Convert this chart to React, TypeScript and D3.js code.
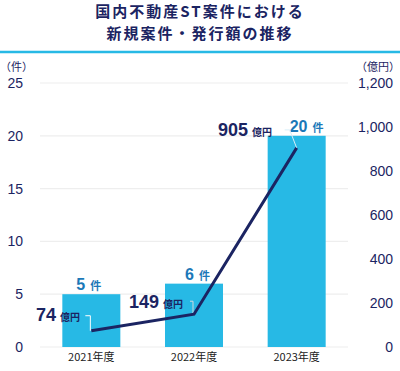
import React from "react";
import * as d3 from "d3";

const categories = ["2021年度", "2022年度", "2023年度"];
const counts = [5, 6, 20];
const amounts = [74, 149, 905];
const leftTicks = [0, 5, 10, 15, 20, 25];
const rightTicks = [0, 200, 400, 600, 800, 1000, 1200];

const W = 400, H = 371;
const JP = "'Noto Sans CJK JP', 'Noto Sans', sans-serif";
const NUM = "'Liberation Sans', Arial, sans-serif";
const NAVY = "#1b2462";
const BAR = "#27b9e5";
const LBL = "#1b78b8";

const countDx = [-15, -9, -7];
const amountEnd = [80, 183, 272];
const amountDy = [-10, -6, -12];

export default function App() {
  const x = d3.scaleBand<string>().domain(categories).range([40, 348]).paddingInner(0.435).paddingOuter(0.2175);
  const yL = d3.scaleLinear().domain([0, 25]).range([347, 83]);
  const yR = d3.scaleLinear().domain([0, 1200]).range([347, 83]);
  const cx = (c: string) => (x(c) as number) + x.bandwidth() / 2;
  const line = d3.line<number>().x((_, i) => cx(categories[i])).y((d) => yR(d));
  const pts = amounts.map((a, i) => [cx(categories[i]), yR(a)]);

  return (
    <svg width={W} height={H} style={{ position: "absolute", left: 0, top: 0 }}>
      <rect width={W} height={H} fill="#fff" />
      <text x={200} y={17} textAnchor="middle" fontFamily={JP} fontWeight={700} fontSize={15} letterSpacing={2} fill={NAVY}>国内不動産ST案件における</text>
      <text x={200} y={39} textAnchor="middle" fontFamily={JP} fontWeight={700} fontSize={15} letterSpacing={2} fill={NAVY}>新規案件・発行額の推移</text>
      <line x1={0} x2={W} y1={52} y2={52} stroke={BAR} strokeWidth={2.5} />
      <text x={0} y={71} fontFamily={JP} fontSize={11} fill={NAVY}>（件）</text>
      <text x={400} y={71} textAnchor="end" fontFamily={JP} fontSize={11} fill={NAVY}>（億円）</text>
      {leftTicks.map((t) => (
        <g key={"l" + t}>
          <line x1={40} x2={348} y1={yL(t)} y2={yL(t)} stroke="#eeeeee" strokeWidth={1.2} />
          <text x={23} y={yL(t) + 5} textAnchor="end" fontFamily={NUM} fontSize={14} fill={NAVY}>{t}</text>
        </g>
      ))}
      {rightTicks.map((t) => (
        <text key={"r" + t} x={393} y={yR(t) + 5} textAnchor="end" fontFamily={NUM} fontSize={14} fill={NAVY}>{d3.format(",")(t)}</text>
      ))}
      {categories.map((c, i) => (
        <g key={c}>
          <rect x={x(c)} y={yL(counts[i])} width={x.bandwidth()} height={yL(0) - yL(counts[i])} fill={BAR} />
          <text x={cx(c)} y={361} textAnchor="middle" fontFamily={JP} fontSize={11} fill="#222">{c}</text>
          <text x={cx(c) + countDx[i]} y={yL(counts[i]) - 4} fontFamily={NUM} fontWeight={700} fontSize={16} fill={LBL}>
            {counts[i]}<tspan fontFamily={JP} fontSize={11} dx={5}>件</tspan>
          </text>
        </g>
      ))}
      <polyline points={`${pts[0][0] - 6},${pts[0][1] - 15} ${pts[0][0] - 1},${pts[0][1] - 15} ${pts[0][0] - 1},${pts[0][1]}`} fill="none" stroke="#ffffff" strokeWidth={1} />
      <polyline points={`${pts[1][0] - 4},${pts[1][1] - 13} ${pts[1][0] - 1},${pts[1][1] - 13} ${pts[1][0] - 1},${pts[1][1]}`} fill="none" stroke="#cfd8e0" strokeWidth={1} />
      <polyline points={`${pts[2][0] - 12},${pts[2][1] - 18} ${pts[2][0] - 7},${pts[2][1] - 18} ${pts[2][0]},${pts[2][1]}`} fill="none" stroke="#d8eef8" strokeWidth={1} />
      <path d={line(amounts) as string} fill="none" stroke={NAVY} strokeWidth={3} />
      {amounts.map((a, i) => (
        <text key={"a" + i} x={amountEnd[i]} y={pts[i][1] + amountDy[i]} textAnchor="end" fontFamily={NUM} fontWeight={700} fontSize={18} fill={NAVY}>
          {a}<tspan fontFamily={JP} fontSize={10} dx={4}>億円</tspan>
        </text>
      ))}
    </svg>
  );
}
